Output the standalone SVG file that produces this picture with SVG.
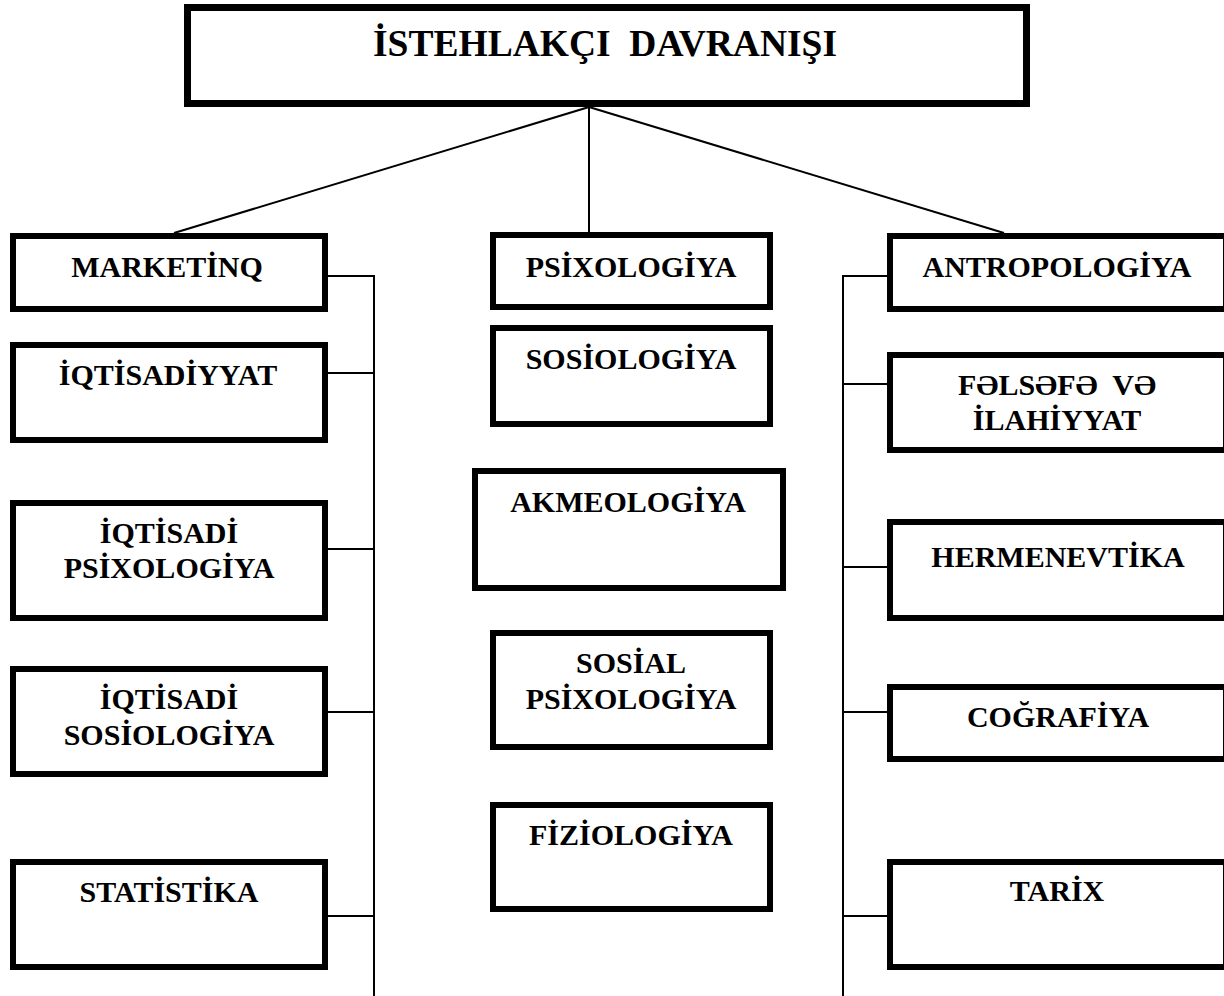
<svg xmlns="http://www.w3.org/2000/svg" width="1224" height="996" viewBox="0 0 1224 996">
<style>
.box{fill:#fff;stroke:#000;stroke-width:6}
.top{fill:#fff;stroke:#000;stroke-width:7}
.lbl{font-family:"Liberation Serif","Times New Roman",serif;font-weight:bold;font-size:30px;fill:#000;text-anchor:middle}
.ttl{font-family:"Liberation Serif","Times New Roman",serif;font-weight:bold;font-size:37.5px;fill:#000;text-anchor:middle}
.ln{stroke:#000;stroke-width:2;fill:none}
</style>
<rect width="1224" height="996" fill="#fff"/>
<g id="connectors">
<line class="ln" x1="589" y1="107" x2="174" y2="233"/>
<line class="ln" x1="589" y1="107" x2="589" y2="232"/>
<line class="ln" x1="589" y1="107" x2="1004" y2="233"/>
<line class="ln" x1="374" y1="275" x2="374" y2="996"/>
<line class="ln" x1="328" y1="276" x2="375" y2="276"/>
<line class="ln" x1="328" y1="373" x2="375" y2="373"/>
<line class="ln" x1="328" y1="549" x2="375" y2="549"/>
<line class="ln" x1="328" y1="712" x2="375" y2="712"/>
<line class="ln" x1="328" y1="916" x2="375" y2="916"/>
<line class="ln" x1="843" y1="275" x2="843" y2="996"/>
<line class="ln" x1="842" y1="276" x2="887" y2="276"/>
<line class="ln" x1="842" y1="384" x2="887" y2="384"/>
<line class="ln" x1="842" y1="567" x2="887" y2="567"/>
<line class="ln" x1="842" y1="712" x2="887" y2="712"/>
<line class="ln" x1="842" y1="916" x2="887" y2="916"/>
</g>
<g id="n-root">
<rect class="top" x="187.5" y="7.5" width="839" height="96"/>
<text class="ttl" x="605" y="56" xml:space="preserve">İSTEHLAKÇI  DAVRANIŞI</text>
</g>
<g id="n-marketinq">
<rect class="box" x="13" y="236" width="312" height="73"/>
<text class="lbl" x="167" y="277">MARKETİNQ</text>
</g>
<g id="n-iqtisadiyyat">
<rect class="box" x="13" y="345" width="312" height="95"/>
<text class="lbl" x="168" y="385">İQTİSADİYYAT</text>
</g>
<g id="n-iqtisadi-psixologiya">
<rect class="box" x="13" y="503" width="312" height="115"/>
<text class="lbl" x="169" y="543">İQTİSADİ</text>
<text class="lbl" x="169" y="578">PSİXOLOGİYA</text>
</g>
<g id="n-iqtisadi-sosiologiya">
<rect class="box" x="13" y="669" width="312" height="105"/>
<text class="lbl" x="169" y="709">İQTİSADİ</text>
<text class="lbl" x="169" y="745">SOSİOLOGİYA</text>
</g>
<g id="n-statistika">
<rect class="box" x="13" y="862" width="312" height="105"/>
<text class="lbl" x="169" y="902">STATİSTİKA</text>
</g>
<g id="n-psixologiya">
<rect class="box" x="493" y="235" width="277" height="72"/>
<text class="lbl" x="631" y="277">PSİXOLOGİYA</text>
</g>
<g id="n-sosiologiya">
<rect class="box" x="493" y="328" width="277" height="96"/>
<text class="lbl" x="631" y="369">SOSİOLOGİYA</text>
</g>
<g id="n-akmeologiya">
<rect class="box" x="475" y="471" width="308" height="117"/>
<text class="lbl" x="628" y="512">AKMEOLOGİYA</text>
</g>
<g id="n-sosial-psixologiya">
<rect class="box" x="493" y="633" width="277" height="114"/>
<text class="lbl" x="631" y="673">SOSİAL</text>
<text class="lbl" x="631" y="709">PSİXOLOGİYA</text>
</g>
<g id="n-fiziologiya">
<rect class="box" x="493" y="805" width="277" height="104"/>
<text class="lbl" x="631" y="845">FİZİOLOGİYA</text>
</g>
<g id="n-antropologiya">
<rect class="box" x="890" y="236" width="336" height="73"/>
<text class="lbl" x="1057" y="277">ANTROPOLOGİYA</text>
</g>
<g id="n-felsefe">
<rect class="box" x="890" y="355" width="336" height="95"/>
<text class="lbl" x="1057" y="395" xml:space="preserve">FƏLSƏFƏ  VƏ</text>
<text class="lbl" x="1057" y="430">İLAHİYYAT</text>
</g>
<g id="n-hermenevtika">
<rect class="box" x="890" y="522" width="336" height="96"/>
<text class="lbl" x="1058" y="567">HERMENEVTİKA</text>
</g>
<g id="n-cografiya">
<rect class="box" x="890" y="687" width="336" height="72"/>
<text class="lbl" x="1058" y="727">COĞRAFİYA</text>
</g>
<g id="n-tarix">
<rect class="box" x="890" y="862" width="336" height="105"/>
<text class="lbl" x="1057" y="901">TARİX</text>
</g>
</svg>
